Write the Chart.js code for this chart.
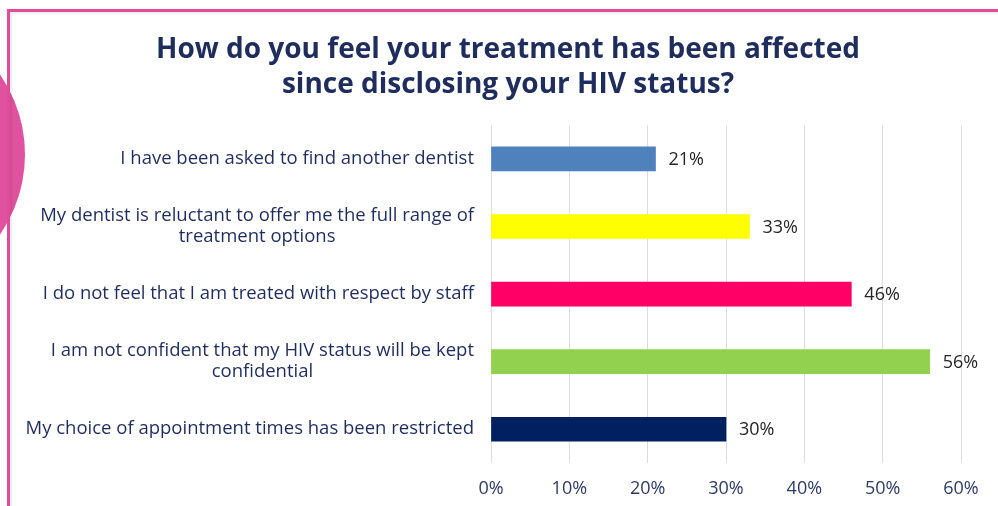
<!DOCTYPE html>
<html>
<head>
<meta charset="utf-8">
<script src="https://cdn.jsdelivr.net/npm/chart.js@4/dist/chart.umd.min.js"></script>
<style>
  html, body { margin: 0; padding: 0; background: #ffffff; }
  #wrap { position: relative; width: 998px; height: 506px; overflow: hidden; background: #ffffff; }
  #chart { position: absolute; left: 0; top: 0; }
  #circle { position: absolute; left: -256px; top: 14px; width: 281px; height: 281px; border-radius: 50%; background: #E0529F; }
  #frame { position: absolute; left: 7px; top: 9px; width: 1100px; height: 600px; border-top: 3px solid #DE4C9B; border-left: 3px solid #DE4C9B; box-shadow: inset 2px 2px 2px rgba(0,0,0,0.08); }
</style>
</head>
<body>
<div id="wrap">
  <canvas id="chart" width="998" height="506"></canvas>
  <div id="circle"></div>
  <div id="frame"></div>
</div>
<script>
const titleLines = ["How do you feel your treatment has been affected", "since disclosing your HIV status?"];
const categories = [
  "I have been asked to find another dentist",
  ["My dentist is reluctant to offer me the full range of", "treatment options"],
  "I do not feel that I am treated with respect by staff",
  ["I am not confident that my HIV status will be kept", "confidential"],
  "My choice of appointment times has been restricted"
];
const values = [21, 33, 46, 56, 30];
const barColors = ["#4F81BD", "#FFFF00", "#FF0066", "#92D050", "#002060"];
const xTickLabels = ["0%", "10%", "20%", "30%", "40%", "50%", "60%"];

const NAVY = "#1F2D5C";
const labelFont = "'Open Sans', sans-serif";

const valueLabelPlugin = {
  id: 'valueLabels',
  afterDatasetsDraw(chart) {
    const ctx = chart.ctx;
    const meta = chart.getDatasetMeta(0);
    ctx.save();
    ctx.font = "18px " + labelFont;
    ctx.fillStyle = "#262626";
    ctx.textAlign = "left";
    ctx.textBaseline = "middle";
    meta.data.forEach((bar, i) => {
      ctx.fillText(values[i] + "%", bar.x + 13, bar.y + 1);
    });
    ctx.restore();
  }
};

const categoryLabelPlugin = {
  id: 'categoryLabels',
  afterDraw(chart) {
    const ctx = chart.ctx;
    const yScale = chart.scales.y;
    const right = chart.chartArea.left - 17;
    const lineH = 21;
    ctx.save();
    ctx.font = "18.5px " + labelFont;
    ctx.fillStyle = NAVY;
    ctx.textAlign = "center";
    ctx.textBaseline = "middle";
    categories.forEach((lab, i) => {
      const lines = Array.isArray(lab) ? lab : [lab];
      const y = yScale.getPixelForTick(i);
      const maxW = Math.max(...lines.map(l => ctx.measureText(l).width));
      const cx = right - maxW / 2;
      const y0 = y - (lines.length - 1) * lineH / 2;
      lines.forEach((l, k) => ctx.fillText(l, cx, y0 + k * lineH));
    });
    ctx.restore();
  }
};

new Chart(document.getElementById('chart'), {
  type: 'bar',
  data: {
    labels: categories,
    datasets: [{
      data: values,
      backgroundColor: barColors,
      borderWidth: 0,
      barThickness: 24
    }]
  },
  options: {
    indexAxis: 'y',
    responsive: false,
    animation: false,
    devicePixelRatio: 1,
    layout: { padding: { left: 55, right: 37, top: 14, bottom: 0 } },
    plugins: {
      legend: { display: false },
      tooltip: { enabled: false },
      title: {
        display: true,
        text: titleLines,
        color: NAVY,
        font: { family: labelFont, size: 28, weight: 'bold', lineHeight: 1.27 },
        padding: { top: 18, bottom: 22 }
      }
    },
    scales: {
      x: {
        min: 0,
        max: 60,
        ticks: {
          stepSize: 10,
          padding: 15,
          color: "#2E3B66",
          font: { family: labelFont, size: 18 },
          callback: (v, i) => xTickLabels[i]
        },
        grid: { color: "#DCDCDC", drawTicks: false },
        border: { display: false },
        afterFit(s) { s.height = 43; }
      },
      y: {
        ticks: { display: false },
        grid: { display: false },
        border: { display: false },
        afterFit(s) { s.width = 436; }
      }
    }
  },
  plugins: [valueLabelPlugin, categoryLabelPlugin]
});
</script>
</body>
</html>
